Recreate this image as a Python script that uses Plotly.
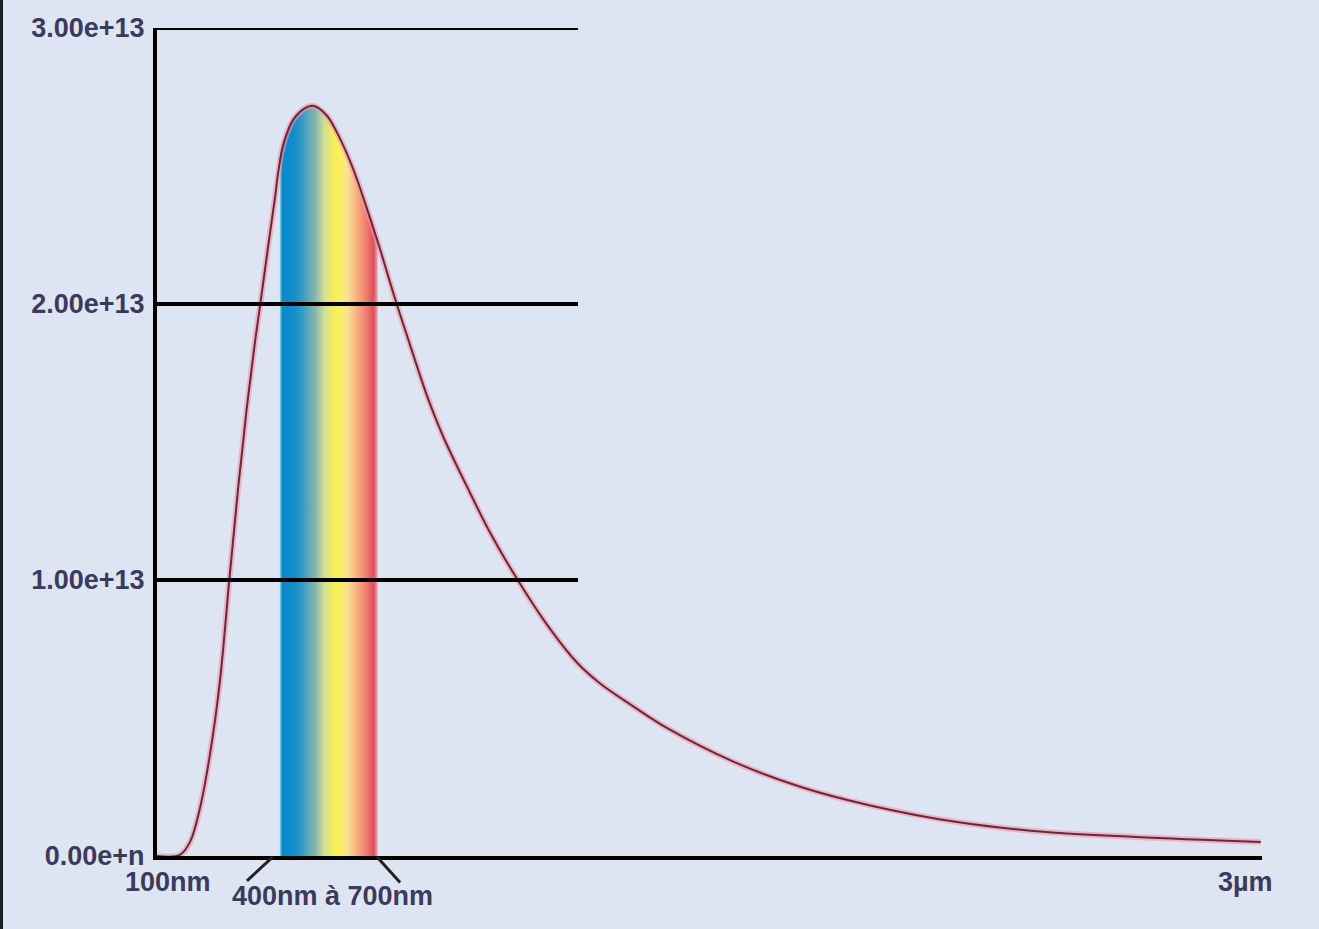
import numpy as np
import plotly.graph_objects as go

# ---- data ----
WAVELENGTH_NM = [100, 160, 187, 213, 239, 265, 290, 313, 335, 357, 373, 392, 410, 418,
                 432, 458, 493, 510, 545, 580, 615, 650, 685, 725, 764, 808, 851, 913,
                 974, 1044, 1123, 1202, 1263, 1349, 1438, 1614, 1790, 1966, 2200, 2433,
                 2669, 2997]
RADIANCE_E13 = [0.0, 0.004, 0.052, 0.175, 0.368, 0.632, 1.004, 1.334, 1.615, 1.861,
                2.019, 2.212, 2.388, 2.476, 2.581, 2.669, 2.713, 2.718, 2.684, 2.600,
                2.489, 2.350, 2.200, 2.018, 1.852, 1.670, 1.520, 1.340, 1.172, 1.006,
                0.839, 0.701, 0.625, 0.543, 0.464, 0.341, 0.250, 0.185, 0.123, 0.087,
                0.069, 0.051]
VISIBLE_BAND_NM = [422, 679]          # drawn extent of the rainbow band
Y_TICKS = [0, 1e13, 2e13, 3e13]
Y_TICK_TEXT = ["0.00e+n", "1.00e+13", "2.00e+13", "3.00e+13"]
X_RANGE_NM = [100, 3000]
X_LABELS = ["100nm", "3µm"]
BAND_LABEL = "400nm à 700nm"

BG = "#dee5f2"
TXT = "#3b3a5c"
FONT = dict(family="Liberation Sans, Arial, sans-serif", size=27, color=TXT, weight="bold")

x = np.array(WAVELENGTH_NM, dtype=float)
y = np.array(RADIANCE_E13) * 1e13

# band: curve points inside the visible band plus its two edges
lo, hi = VISIBLE_BAND_NM
inside = (x > lo) & (x < hi)
bx = np.concatenate([[lo], x[inside], [hi]])
by = np.interp(bx, x, y)

fig = go.Figure()

fig.add_trace(go.Scatter(
    x=bx, y=by, mode="lines", line=dict(width=0, shape="spline"),
    fill="tozeroy",
    fillgradient=dict(type="horizontal", colorscale=[
        [0.00, "#a6e2f2"], [0.025, "#0a89ca"], [0.15, "#128dc8"], [0.24, "#3a9cc4"],
        [0.37, "#8cb8ac"], [0.46, "#d4e094"], [0.56, "#f8ee58"], [0.62, "#faf060"],
        [0.69, "#f8e298"], [0.78, "#f8b480"], [0.89, "#f07870"], [0.96, "#e0505c"],
        [1.00, "#f0a0b0"]]),
    hoverinfo="skip", showlegend=False))

# pink halo + dark core for the curve
fig.add_trace(go.Scatter(x=x, y=y, mode="lines",
                         line=dict(color="rgba(242,150,170,0.6)", width=6, shape="spline"),
                         hoverinfo="skip", showlegend=False))
fig.add_trace(go.Scatter(x=x, y=y, mode="lines",
                         line=dict(color="#6a2738", width=2, shape="spline"),
                         showlegend=False))

# partial horizontal grid lines (only on the left part of the chart)
grid_end = 0.381
for v in Y_TICKS[1:]:
    fig.add_shape(type="line", xref="paper", yref="y", x0=0, x1=grid_end, y0=v, y1=v,
                  line=dict(color="black", width=4), layer="above")

# leader lines for the band label
fig.add_shape(type="line", xref="x", yref="paper", x0=404, y0=-0.001, x1=336, y1=-0.030,
              line=dict(color="#222222", width=3))
fig.add_shape(type="line", xref="x", yref="paper", x0=677, y0=-0.001, x1=738, y1=-0.032,
              line=dict(color="#222222", width=3))

# dark left border of the image
fig.add_shape(type="line", xref="paper", yref="paper", x0=-0.1407, x1=-0.1407,
              y0=-0.1, y1=1.05, line=dict(color="#1c1c1c", width=3))

fig.add_annotation(x=X_RANGE_NM[0], y=0, xref="x", yref="paper", text=X_LABELS[0],
                   showarrow=False, xshift=11, yshift=-26, yanchor="middle", font=FONT)
fig.add_annotation(x=X_RANGE_NM[1], y=0, xref="x", yref="paper", text=X_LABELS[1],
                   showarrow=False, xshift=-17, yshift=-26, yanchor="middle", font=FONT)
fig.add_annotation(x=(lo + hi) / 2, y=0, xref="x", yref="paper", text=BAND_LABEL,
                   showarrow=False, xshift=4, yshift=-40, yanchor="middle", font=FONT)

fig.update_layout(
    width=1319, height=929,
    margin=dict(l=157, r=57, t=28, b=73),
    paper_bgcolor=BG, plot_bgcolor=BG,
    showlegend=False,
    xaxis=dict(range=X_RANGE_NM, showgrid=False, zeroline=False, showline=True,
               linecolor="black", linewidth=4, showticklabels=False, ticks=""),
    yaxis=dict(range=[0, 3e13], showgrid=False, zeroline=False, showline=True,
               linecolor="black", linewidth=4, tickvals=Y_TICKS, ticktext=Y_TICK_TEXT,
               ticks="", ticklabelstandoff=3, tickfont=FONT),
)

fig.write_html("out.html")
